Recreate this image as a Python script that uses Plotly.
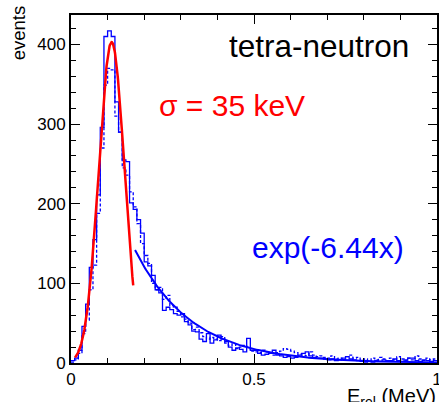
import numpy as np
import plotly.graph_objects as go

# ---- data ----
n_bins = 100
x_min, x_max = 0.0, 1.0

solid_counts = [
    3, 6, 16, 46, 74, 120, 155, 211, 296, 410,
    417, 410, 328, 290, 255, 253, 201, 193, 180, 163,
    127, 122, 110, 92, 88, 66, 70, 67, 62, 60,
    62, 52, 48, 40, 39, 30, 27, 37, 25, 29,
    35, 30, 27, 20, 16, 19, 17, 14, 31, 16,
    16, 12, 10, 11, 12, 16, 10, 9, 7, 8,
    6, 7, 10, 12, 14, 9, 7, 6, 6, 5,
    4, 5, 3, 4, 6, 8, 5, 4, 3, 2,
    1, 2, 1, 3, 2, 4, 2, 3, 5, 3,
    2, 4, 6, 6, 3, 2, 4, 3, 2, 3,
]

dashed_counts = [
    1, 4, 12, 37, 54, 92, 123, 188, 270, 349,
    370, 368, 310, 290, 245, 236, 215, 196, 175, 150,
    135, 125, 100, 92, 95, 80, 85, 72, 70, 65,
    58, 55, 50, 42, 45, 38, 33, 30, 32, 30,
    28, 33, 25, 22, 24, 18, 20, 22, 20, 15,
    14, 13, 16, 14, 12, 10, 13, 15, 18, 17,
    15, 13, 11, 10, 9, 14, 10, 8, 9, 7,
    6, 9, 5, 6, 4, 8, 10, 6, 7, 4,
    5, 3, 6, 4, 7, 5, 3, 6, 4, 8,
    5, 3, 6, 4, 9, 5, 3, 6, 4, 5,
]

# fit parameters
gauss_amp, gauss_mean, gauss_sigma = 403.0, 0.111, 0.035
gauss_range = (0.011, 0.170)
exp_amp, exp_slope = 438.0, -6.44
exp_range = (0.175, 1.0)

y_ticks = [0, 100, 200, 300, 400]
x_ticks = [0, 0.5, 1]

# ---- build ----
edges = np.linspace(x_min, x_max, n_bins + 1)

def step_xy(counts):
    xs = list(edges)
    ys = list(counts) + [counts[-1]]
    return xs, ys

fig = go.Figure()

sx, sy = step_xy(solid_counts)
fig.add_trace(go.Scatter(x=sx, y=sy, mode="lines", line_shape="hv",
                         line=dict(color="#0000ff", width=1.3), showlegend=False))
dx, dy = step_xy(dashed_counts)
fig.add_trace(go.Scatter(x=dx, y=dy, mode="lines", line_shape="hv",
                         line=dict(color="#0000ff", width=1.3, dash="3px,2px"),
                         showlegend=False))

gx = np.linspace(*gauss_range, 200)
gy = gauss_amp * np.exp(-0.5 * ((gx - gauss_mean) / gauss_sigma) ** 2)
fig.add_trace(go.Scatter(x=gx, y=gy, mode="lines",
                         line=dict(color="#ff0000", width=2.5), showlegend=False))

ex = np.linspace(*exp_range, 300)
ey = exp_amp * np.exp(exp_slope * ex)
fig.add_trace(go.Scatter(x=ex, y=ey, mode="lines",
                         line=dict(color="#0000ff", width=2), showlegend=False))

font = "Liberation Sans, Arial, sans-serif"

fig.update_layout(
    width=439, height=402,
    margin=dict(l=71, r=2, t=15, b=39, autoexpand=False),
    paper_bgcolor="white", plot_bgcolor="white",
    font=dict(family=font, color="black"),
    xaxis=dict(range=[x_min, x_max], tickvals=x_ticks, ticktext=["0", "0.5", "1"],
               ticks="inside", ticklen=9, tickwidth=1.2, tickcolor="black",
               minor=dict(ticks="inside", ticklen=5, dtick=0.1, tickcolor="black", tickwidth=1.2),
               showline=True, linecolor="black", linewidth=2, mirror="allticks",
               showgrid=False, zeroline=False, automargin=False,
               ticklabeloverflow="allow",
               tickfont=dict(size=17, family=font)),
    yaxis=dict(range=[0, 437], tickvals=y_ticks,
               ticks="inside", ticklen=9, tickwidth=1.2, tickcolor="black",
               minor=dict(ticks="inside", ticklen=5, dtick=20, tickcolor="black", tickwidth=1.2),
               showline=True, linecolor="black", linewidth=2, mirror="allticks",
               showgrid=False, zeroline=False, automargin=False,
               ticklabeloverflow="allow",
               tickfont=dict(size=17, family=font)),
    annotations=[
        dict(text="events", textangle=-90, xref="paper", yref="paper",
             x=-0.145, y=1.035, xanchor="center", yanchor="top",
             showarrow=False, font=dict(size=18.5, family=font, color="black")),
        dict(text="E<sub>rel</sub> (MeV)", xref="paper", yref="paper",
             x=1.004, y=-0.058, xanchor="right", yanchor="top",
             showarrow=False, font=dict(size=20, family=font, color="black")),
        dict(text="tetra-neutron", xref="paper", yref="paper",
             x=0.929, y=0.911, xanchor="right", yanchor="middle",
             showarrow=False, font=dict(size=31.5, family=font, color="black")),
        dict(text="σ = 35 keV", xref="paper", yref="paper",
             x=0.235, y=0.741, xanchor="left", yanchor="middle",
             showarrow=False, font=dict(size=30, family=font, color="#ff0000")),
        dict(text="exp(-6.44x)", xref="paper", yref="paper",
             x=0.489, y=0.333, xanchor="left", yanchor="middle",
             showarrow=False, font=dict(size=30, family=font, color="#0000ff")),
    ],
)

fig.write_html("out.html", config={"displayModeBar": False},
               post_script="document.body.style.margin='0';document.body.style.padding='0';")
